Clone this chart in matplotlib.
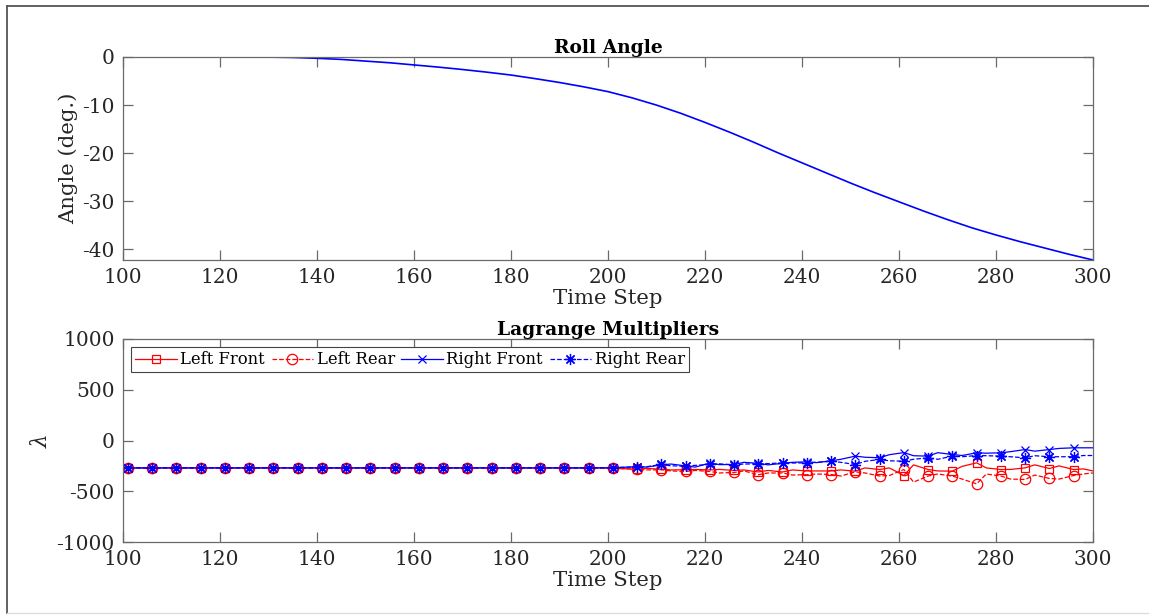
import matplotlib.pyplot as plt
from matplotlib.lines import Line2D

# Roll angle (deg.) sampled every 5 time steps
roll_steps = [100, 105, 110, 115, 120, 125, 130, 135, 140, 145, 150, 155, 160, 165,
              170, 175, 180, 185, 190, 195, 200, 205, 210, 215, 220, 225, 230, 235,
              240, 245, 250, 255, 260, 265, 270, 275, 280, 285, 290, 295, 300]
roll_angle = [0.0, 0.0, 0.0, 0.0, 0.0, 0.0, -0.02, -0.1, -0.27, -0.5, -0.85, -1.2,
              -1.65, -2.1, -2.6, -3.15, -3.75, -4.5, -5.3, -6.2, -7.2, -8.5, -10.0,
              -11.7, -13.6, -15.6, -17.7, -19.9, -22.0, -24.1, -26.2, -28.2, -30.1,
              -32.0, -33.8, -35.5, -37.0, -38.4, -39.7, -41.0, -42.2]

# Lagrange multipliers: values at the marker steps (101, 106, ..., 296)
marker_steps = list(range(101, 297, 5))
left_front_m = [-270, -270, -270, -270, -270, -270, -270, -270, -270, -270,
                -270, -270, -270, -270, -270, -270, -270, -270, -270, -270,
                -272, -283, -283, -288, -290, -295, -310, -310, -300, -300,
                -302, -286, -345, -286, -302, -220, -286, -270, -276, -286]
left_rear_m = [-270, -270, -270, -270, -270, -270, -270, -270, -270, -270,
               -270, -270, -270, -270, -270, -270, -270, -270, -270, -270,
               -275, -283, -288, -305, -305, -315, -337, -320, -337, -335,
               -309, -350, -286, -350, -350, -427, -350, -384, -374, -345]
right_front_m = [-270, -270, -270, -270, -270, -270, -270, -270, -270, -270,
                 -270, -270, -270, -270, -270, -270, -270, -270, -270, -270,
                 -268, -258, -240, -250, -222, -236, -225, -225, -210, -200,
                 -154, -170, -119, -154, -138, -121, -121, -89, -89, -72]
right_rear_m = [-270, -270, -270, -270, -270, -270, -270, -270, -270, -270,
                -270, -270, -270, -270, -270, -270, -270, -270, -270, -270,
                -268, -260, -236, -252, -236, -240, -230, -220, -220, -204,
                -237, -187, -204, -171, -154, -148, -154, -171, -160, -160]

# in-between samples where the solver output starts to oscillate
wiggle_steps = list(range(208, 299, 5))
left_front_w = [-275, -290, -285, -285, -290, -295, -290, -300, -290, -270,
                -270, -240, -300, -255, -270, -285, -240, -250, -280]
left_rear_w = [-290, -300, -295, -320, -300, -320, -340, -330, -350, -320,
               -345, -410, -330, -380, -330, -380, -340, -380, -330]
right_front_w = [-262, -232, -262, -238, -215, -240, -215, -218, -185, -165,
                 -140, -150, -120, -148, -125, -110, -105, -78, -72]
right_rear_w = [-258, -250, -245, -230, -232, -228, -222, -215, -215, -205,
                -200, -185, -185, -160, -150, -160, -150, -160, -148]

# values at the ends of the window
start_vals = {"LF": -270, "LR": -270, "RF": -270, "RR": -270}
end_vals = {"LF": -300, "LR": -320, "RF": -72, "RR": -148}

plt.rcParams["font.family"] = "DejaVu Serif"
plt.rcParams["axes.unicode_minus"] = False
plt.rcParams["mathtext.fontset"] = "dejavuserif"

AX_COLOR = "#6a6a6a"
TXT = "#262626"


def merge(key, marks, wiggles):
    pts = [(100, start_vals[key]), (300, end_vals[key])]
    pts += list(zip(marker_steps, marks)) + list(zip(wiggle_steps, wiggles))
    pts.sort()
    xs = [p[0] for p in pts]
    ys = [p[1] for p in pts]
    mk = [i for i, s in enumerate(xs) if s in marker_steps]
    return xs, ys, mk


def style_axes(ax):
    for sp in ax.spines.values():
        sp.set_color(AX_COLOR)
        sp.set_linewidth(0.9)
    ax.tick_params(direction="in", length=7, width=0.9, color=AX_COLOR,
                   top=True, right=True, labelsize=14.5, pad=6,
                   labelcolor=TXT)


fig = plt.figure(figsize=(11.49, 6.15), dpi=100)

# outer frame
fig.add_artist(Line2D([7 / 1149, 7 / 1149], [2 / 615, 609 / 615],
                      transform=fig.transFigure, color="#555555", lw=1.3))
fig.add_artist(Line2D([7 / 1149, 1.0], [609 / 615, 609 / 615],
                      transform=fig.transFigure, color="#555555", lw=1.3))
fig.add_artist(Line2D([7 / 1149, 1.0], [2 / 615, 2 / 615],
                      transform=fig.transFigure, color="#dddddd", lw=1.0))

# --- Roll angle ---
ax1 = fig.add_axes([123 / 1149, 355 / 615, 970 / 1149, 203 / 615])
ax1.plot(roll_steps, roll_angle, color="#0000ff", lw=1.2)
ax1.set_xlim(100, 300)
ax1.set_ylim(min(roll_angle), 0)
ax1.set_xticks(range(100, 301, 20))
ax1.set_yticks(range(-40, 1, 10))
ax1.set_title("Roll Angle", fontsize=13.4, fontweight="bold", pad=3)
ax1.set_xlabel("Time Step", fontsize=15.3, labelpad=1, color=TXT)
ax1.set_ylabel("Angle (deg.)", fontsize=15.3, color=TXT)
ax1.yaxis.set_label_coords(-0.046, 0.5)
style_axes(ax1)

# --- Lagrange multipliers ---
ax2 = fig.add_axes([123 / 1149, 73 / 615, 970 / 1149, 203 / 615])
series = [
    ("LF", left_front_m, left_front_w, "Left Front", "#ff0000", "-", "s", 6),
    ("LR", left_rear_m, left_rear_w, "Left Rear", "#ff0000", "--", "o", 7.5),
    ("RF", right_front_m, right_front_w, "Right Front", "#0000ff", "-", "x", 6),
    ("RR", right_rear_m, right_rear_w, "Right Rear", "#0000ff", "--", (8, 2, 0), 8),
]
for key, marks, wiggles, label, col, ls, mkr, ms in series:
    xs, ys, mk = merge(key, marks, wiggles)
    ax2.plot(xs, ys, color=col, ls=ls, lw=0.9, marker=mkr, ms=ms,
             markevery=mk, mfc="none", mec=col, mew=0.9, label=label)

ax2.set_xlim(100, 300)
ax2.set_ylim(-1000, 1000)
ax2.set_xticks(range(100, 301, 20))
ax2.set_yticks(range(-1000, 1001, 500))
ax2.set_title("Lagrange Multipliers", fontsize=13.5, fontweight="bold", pad=3)
ax2.set_xlabel("Time Step", fontsize=15.3, labelpad=1, color=TXT)
ax2.set_ylabel(r"$\lambda$", fontsize=15.5, color=TXT)
ax2.yaxis.set_label_coords(-0.073, 0.5)
style_axes(ax2)

leg = ax2.legend(loc="upper left", ncol=4, fontsize=11.8, frameon=True,
                 fancybox=False, framealpha=1, edgecolor="#444444",
                 handlelength=2.55, handletextpad=0.2, columnspacing=0.4,
                 borderpad=0.25, borderaxespad=0.5)
leg.get_frame().set_linewidth(0.8)

fig.savefig("out.png", dpi=100)
